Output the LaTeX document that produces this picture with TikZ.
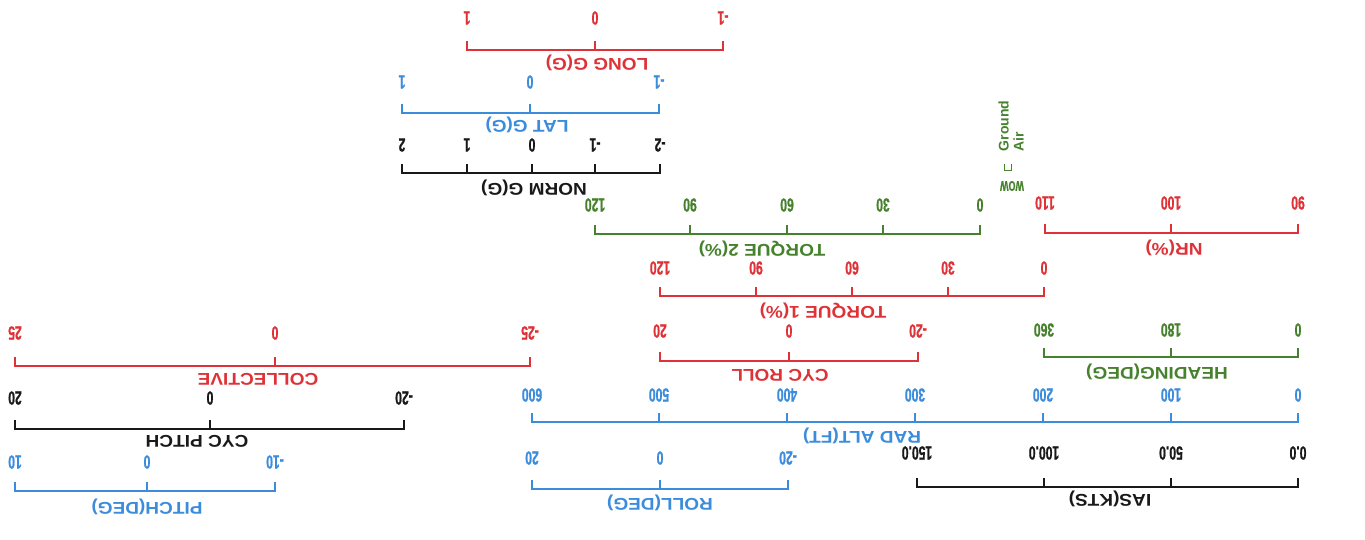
\documentclass[tikz,border=0pt]{standalone}
\usepackage{fontspec}
\setmainfont{Liberation Sans}
\newfontfamily\numfont[FakeStretch=0.64,FakeBold=0.8]{Liberation Sans}
\newfontfamily\labfont[FakeStretch=1.12]{Liberation Sans}
\definecolor{cred}{RGB}{222,50,55}
\definecolor{cblue}{RGB}{60,140,220}
\definecolor{cgreen}{RGB}{70,130,45}
\definecolor{cblack}{RGB}{25,25,25}
\tikzset{
  num/.style={rotate=180, font=\numfont\bfseries\fontsize{19}{19}\selectfont, inner sep=0pt},
  lab/.style={rotate=180, font=\labfont\bfseries\fontsize{17}{17}\selectfont, inner sep=0pt},
  sc/.style={line width=1.1pt, line cap=rect},
}
\newcommand\drawscale[9]{%
  \draw[sc,#1] (#2,#4) -- (#3,#4);
  \foreach \xx/\tv in {#6}{%
    \draw[sc,#1] (\xx,#4) -- (\xx,#4-8);
    \node[num,text=#1] at (\xx,#5) {\tv};
  }
  \node[lab,text=#1] at (#7,#8) {#9};
}
\begin{document}
\begin{tikzpicture}[x=1pt,y=-1pt]
\useasboundingbox (0,0) rectangle (1365,539);
% IAS
\drawscale{cblack}{917}{1298}{487}{453}{917/150.0,1044/100.0,1171/50.0,1298/0.0}{1110}{499}{IAS(KTS)}
% RAD ALT
\drawscale{cblue}{532}{1298}{422}{395}{532/600,659/500,787/400,915/300,1043/200,1171/100,1298/0}{862}{436}{RAD ALT(FT)}
% ROLL
\drawscale{cblue}{532}{788}{489}{458}{532/20,660/0,788/-20}{660}{503}{ROLL(DEG)}
% PITCH
\drawscale{cblue}{15}{275}{491}{462}{15/10,147/0,275/-10}{147}{507}{PITCH(DEG)}
% CYC PITCH
\drawscale{cblack}{15}{404}{429}{398}{15/20,210/0,404/-20}{197}{441}{CYC PITCH}
% COLLECTIVE
\drawscale{cred}{15}{530}{366}{333}{15/25,275/0,530/-25}{258}{379}{COLLECTIVE}
% CYC ROLL
\drawscale{cred}{660}{918}{361}{331}{660/20,789/0,918/-20}{780}{375}{CYC ROLL}
% HEADING
\drawscale{cgreen}{1044}{1298}{357}{330}{1044/360,1171/180,1298/0}{1157}{372}{HEADING(DEG)}
% TORQUE 1
\drawscale{cred}{660}{1044}{296}{268}{660/120,756/90,852/60,948/30,1044/0}{823}{311}{TORQUE 1(\%)}
% TORQUE 2
\drawscale{cgreen}{595}{980}{234}{205}{595/120,690/90,787/60,883/30,980/0}{762}{249}{TORQUE 2(\%)}
% NR
\drawscale{cred}{1045}{1298}{233}{203}{1045/110,1171/100,1298/90}{1174}{248}{NR(\%)}
% NORM G
\drawscale{cblack}{402}{660}{173}{145}{402/2,467/1,532/0,595/-1,660/-2}{534}{188}{NORM G(G)}
% LAT G
\drawscale{cblue}{402}{659}{113}{82}{402/1,530/0,659/-1}{527}{125}{LAT G(G)}
% LONG G
\drawscale{cred}{467}{723}{50}{18}{467/1,595/0,723/-1}{597}{63}{LONG G(G)}
% WOW
\draw[cgreen,line width=1pt] (1004,164) -- (1004,170) -- (1011,170) -- (1011,164);
\node[num,text=cgreen,font=\numfont\bfseries\fontsize{14}{14}\selectfont] (wow) at (1012,186) {WOW};
\node[rotate=90, align=left, text=cgreen, inner sep=0pt, font=\bfseries\fontsize{14}{15}\selectfont] (ga) at (1011,126) {Ground\\Air};
\end{tikzpicture}
\end{document}
